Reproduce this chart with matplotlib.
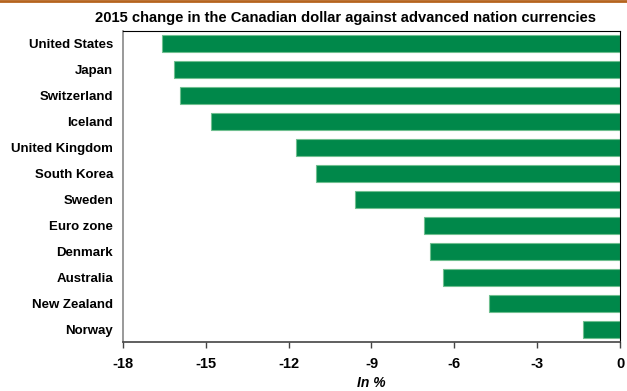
import matplotlib
matplotlib.use("Agg")
import matplotlib.pyplot as plt
from matplotlib.lines import Line2D

plt.rcParams['font.family'] = ['Liberation Sans', 'DejaVu Sans']

countries = ["United States", "Japan", "Switzerland", "Iceland", "United Kingdom",
             "South Korea", "Sweden", "Euro zone", "Denmark", "Australia",
             "New Zealand", "Norway"]
changes = [-16.6, -16.15, -15.95, -14.8, -11.75, -11.0, -9.6, -7.1, -6.9, -6.4, -4.75, -1.35]
xticks = [-18, -15, -12, -9, -6, -3, 0]

fig = plt.figure(figsize=(6.27, 3.91), dpi=100)
ax = fig.add_axes([0.196, 0.125, 0.793, 0.796])

ypos = list(range(len(countries)))
ax.barh(ypos, changes, height=0.66, color="#00884A", edgecolor="#6FBF90", linewidth=0.8)
ax.set_ylim(len(countries) - 0.5, -0.5)
ax.set_xlim(-18, 0)
ax.set_yticks(ypos)
ax.set_yticklabels(countries, fontsize=9.5, fontweight='bold')
ax.set_xticks(xticks)
ax.set_xticklabels([str(t) for t in xticks], fontsize=10.5, fontweight='bold')
ax.tick_params(axis='y', length=0, pad=7)
ax.tick_params(axis='x', direction='out', length=4, width=1, color='#444444', pad=7)
ax.set_xlabel("In %", fontsize=10, fontweight='bold', style='italic', labelpad=3)

ax.spines['left'].set_color('#888888')
ax.spines['left'].set_linewidth(1.2)
ax.spines['bottom'].set_color('#444444')
ax.spines['bottom'].set_linewidth(1.2)
ax.spines['top'].set_color('black')
ax.spines['right'].set_color('black')

fig.text(0.551, 0.953, "2015 change in the Canadian dollar against advanced nation currencies",
         ha='center', va='center', fontsize=10.6, fontweight='bold')

fig.add_artist(Line2D([0, 1], [0.997, 0.997], transform=fig.transFigure,
                      color='#B5641E', linewidth=2))

fig.savefig("out.png", dpi=100)
